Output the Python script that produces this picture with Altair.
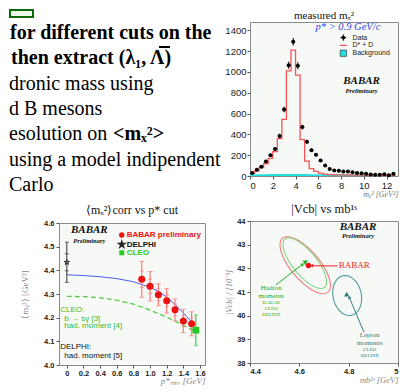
import altair as alt
import numpy as np
import pandas as pd

# ---------------- slide text (top-left, cut by the crop) ----------------
slide_lines = ["for different cuts on the",
               "then extract (\u03bb\u2081,  \u039b)",
               "dronic mass using",
               "d B mesons",
               "esolution on",
               "using a model indipendent",
               "Carlo"]
slide_bold = [True, True, False, False, False, False, False]
slide_tail = "<m\u2093\u00b2>"

# ---------------- top-right: measured mX^2 histogram ----------------
hist_x = [0.2, 0.6, 1.0, 1.4, 1.8, 2.2, 2.6, 3.0, 3.4, 3.8, 4.2, 4.6, 5.0, 5.4, 5.8, 6.2,
          6.6, 7.0, 7.4, 7.8, 8.2, 8.6, 9.0, 9.4, 9.8, 10.2, 10.6, 11.0, 11.4, 11.8, 12.2, 12.6]
data_counts = [30, 60, 90, 140, 200, 260, 385, 640, 1065, 1290, 1060, 470, 328, 248, 204, 148,
               100, 68, 53, 50, 44, 44, 35, 30, 27, 21, 15, 12, 12, 18, 8, 21]
data_err = [9, 11, 12, 14, 16, 18, 22, 27, 34, 37, 34, 23, 19, 17, 15, 13,
            11, 9, 8, 8, 7, 7, 6, 6, 5, 5, 4, 4, 4, 5, 3, 5]
mc_counts = [25, 50, 80, 120, 170, 235, 360, 545, 1010, 1210, 970, 350, 142, 70, 45, 27,
             18, 14, 12, 11, 10, 10, 9, 9, 8, 8, 8, 7, 7, 7, 6, 6]
bg_counts = [15, 17, 18, 18, 19, 19, 20, 20, 20, 20, 20, 19, 19, 18, 18, 18,
             17, 17, 16, 16, 15, 15, 14, 14, 13, 13, 12, 12, 11, 11, 10, 10]
hist_legend = ["Data", "D* + D", "Background"]
hist_legend_y = [1330, 1255, 1180]

# ---------------- bottom-left: <mX^2> vs p* cut ----------------
babar_p = [0.9, 1.0, 1.1, 1.2, 1.3, 1.4, 1.5]
babar_m = [4.362, 4.333, 4.297, 4.271, 4.233, 4.186, 4.174]
babar_err = [0.076, 0.062, 0.047, 0.052, 0.046, 0.049, 0.051]
babar_stat = [0.035, 0.03, 0.025, 0.025, 0.024, 0.024, 0.025]
delphi_p, delphi_m, delphi_err, delphi_stat = 0.0, 4.434, 0.085, 0.036
cleo_p, cleo_m, cleo_err = 1.55, 4.147, 0.065
blue_p = [0, 0.2, 0.4, 0.6, 0.8, 1.0, 1.1, 1.2, 1.3, 1.4, 1.5, 1.53]
blue_m = [4.381, 4.378, 4.373, 4.365, 4.352, 4.328, 4.311, 4.287, 4.256, 4.22, 4.182, 4.17]
green_p = [0, 0.2, 0.4, 0.6, 0.8, 1.0, 1.2, 1.4, 1.55]
green_m = [4.29, 4.289, 4.284, 4.274, 4.257, 4.232, 4.202, 4.168, 4.14]

# ---------------- bottom-right: |Vcb| vs mb ----------------
ell_name = ["BABAR", "Hadron", "Lepton"]
ell_cx = [4.624, 4.622, 4.794]
ell_cy = [42.13, 42.22, 40.85]
ell_u = [(0.091, -1.148), (0.0791, -1.031), (0.0158, -0.837)]
ell_v = [(-0.0467, -0.358), (-0.0396, -0.292), (-0.0564, -0.103)]
ell_color = ["#f07a7a", "#86d486", "#4f9c9c"]
pt_mb = [4.637, 4.624, 4.792]
pt_vcb = [42.12, 42.23, 40.91]

SERIF = "Liberation Serif"
SANS = "Liberation Sans"
one = pd.DataFrame({"a": [0]})
LEFT = 50  # distance from the slide text to the lower-left plot frame

# ======================= text panel =======================
TW, TH = 150, 178
tp_layers = [
    alt.Chart(one).mark_rect(fill="#eef8ea", stroke="#0b6b0b", strokeWidth=2).encode(
        x=alt.value(-LEFT + 1), x2=alt.value(-LEFT + 24), y=alt.value(-12), y2=alt.value(-5)),
    # bar over the Lambda
    alt.Chart(one).mark_rule(color="black", strokeWidth=2).encode(
        x=alt.value(-LEFT + 150), x2=alt.value(-LEFT + 161), y=alt.value(25)),
]
ys_text = alt.Scale(domain=[-0.435, 6.6], reverse=True)
shifts = [1, 2, 0, 0, 0, 0, 0]
for i, (t, b) in enumerate(zip(slide_lines, slide_bold)):
    d = pd.DataFrame({"line": [i], "txt": [t]})
    tp_layers.append(alt.Chart(d).mark_text(
        align="left", baseline="middle", font=SERIF, fontSize=20,
        fontWeight="bold" if b else "normal", color="black", dx=shifts[i]).encode(
        x=alt.value(-LEFT), y=alt.Y("line:Q", scale=ys_text, axis=None), text="txt:N"))
tail_df = pd.DataFrame({"line": [4], "txt": [slide_tail]})
tp_layers.append(alt.Chart(tail_df).mark_text(
    align="left", baseline="middle", font=SERIF, fontSize=20, fontWeight="bold",
    color="black").encode(x=alt.value(-LEFT + 104), y=alt.Y("line:Q", scale=ys_text, axis=None), text="txt:N"))
text_panel = alt.layer(*tp_layers).properties(
    width=TW, height=TH, view=alt.ViewBackground(fill="white", stroke="transparent"))

# ======================= histogram =======================
hxs = alt.Scale(domain=[0, 13], nice=False, zero=False)
hys = alt.Scale(domain=[0, 1480], nice=False, zero=False)
hax = alt.Axis(values=[0, 2, 4, 6, 8, 10, 12], title="m\u2093\u00b2 [GeV\u00b2]", titleAnchor="end",
               titleFont=SERIF, titleFontStyle="italic", titleFontWeight="normal", titleFontSize=8,
               titleColor="#777", titlePadding=1, labelFont=SANS, labelFontSize=9.5, labelColor="#222",
               tickSize=3, labelPadding=1)
hay = alt.Axis(values=list(range(0, 1401, 200)), format="d", title=None, labelFont=SANS, labelFontSize=9.5,
               labelColor="#222", tickSize=3, labelPadding=1)


def HX(f):
    return alt.X(f, scale=hxs, axis=hax)


def HY(f):
    return alt.Y(f, scale=hys, axis=hay)


hdf = pd.DataFrame({"x": hist_x, "n": data_counts, "e": data_err})
hdf["lo"] = hdf.n - hdf.e
hdf["hi"] = hdf.n + hdf.e
hdf["xl"] = hdf.x - 0.16
hdf["xr"] = hdf.x + 0.16
sdf = pd.DataFrame({"edge": [c - 0.2 for c in hist_x] + [hist_x[-1] + 0.2],
                    "mc": mc_counts + [mc_counts[-1]], "bg": bg_counts + [bg_counts[-1]]})

h_bg = alt.Chart(sdf).mark_area(interpolate="step-after", color="#22e0e0", opacity=1).encode(
    x=HX("edge:Q"), y=HY("bg:Q"))
h_mc = alt.Chart(sdf).mark_line(interpolate="step-after", color="#f25656", strokeWidth=1.3).encode(
    x=HX("edge:Q"), y=HY("mc:Q"))
h_ev = alt.Chart(hdf).mark_rule(color="black", strokeWidth=1).encode(x=HX("x:Q"), y=HY("lo:Q"), y2="hi:Q")
h_eh = alt.Chart(hdf).mark_rule(color="black", strokeWidth=1).encode(x=HX("xl:Q"), x2="xr:Q", y=HY("n:Q"))
h_pt = alt.Chart(hdf).mark_circle(color="black", size=16, opacity=1).encode(x=HX("x:Q"), y=HY("n:Q"))

lg = pd.DataFrame({"t": hist_legend, "y": hist_legend_y})
lg["mx"] = 8.2
lg["tx"] = 9.0
lg0 = lg.iloc[[0]].copy()
lg0["yl"] = lg0.y - 30
lg0["yh"] = lg0.y + 30
lg0["xl"] = 7.95
lg0["xr"] = 8.45
lg1 = lg.iloc[[1]].copy()
lg1["xl"] = 7.9
lg1["xr"] = 8.5
lg2 = lg.iloc[[2]]
h_l_text = alt.Chart(lg).mark_text(align="left", baseline="middle", font=SANS, fontSize=7,
                                   color="#222").encode(x=HX("tx:Q"), y=HY("y:Q"), text="t:N")
h_l0 = alt.Chart(lg0).mark_circle(color="black", size=14, opacity=1).encode(x=HX("mx:Q"), y=HY("y:Q"))
h_l0a = alt.Chart(lg0).mark_rule(color="black").encode(x=HX("mx:Q"), y=HY("yl:Q"), y2="yh:Q")
h_l0b = alt.Chart(lg0).mark_rule(color="black").encode(x=HX("xl:Q"), x2="xr:Q", y=HY("y:Q"))
h_l1 = alt.Chart(lg1).mark_rule(color="#f25656", strokeWidth=1.3).encode(x=HX("xl:Q"), x2="xr:Q", y=HY("y:Q"))
h_l2 = alt.Chart(lg2).mark_square(color="#22e0e0", stroke="#222", strokeWidth=0.6, size=40,
                                  opacity=1).encode(x=HX("mx:Q"), y=HY("y:Q"))
ptxt = pd.DataFrame({"x": [8.6], "y": [1428], "t": ["p* > 0.9 GeV/c"]})
h_ptxt = alt.Chart(ptxt).mark_text(font=SERIF, fontStyle="italic", fontSize=10.5, color="#3344ee").encode(
    x=HX("x:Q"), y=HY("y:Q"), text="t:N")
logo_h = pd.DataFrame({"x": [9.8, 9.8], "y": [915, 820], "t": ["BABAR", "Preliminary"]})
h_logo1 = alt.Chart(logo_h.iloc[[0]]).mark_text(font=SERIF, fontStyle="italic", fontWeight="bold",
                                                fontSize=11, color="#111").encode(x=HX("x:Q"), y=HY("y:Q"), text="t:N")
h_logo2 = alt.Chart(logo_h.iloc[[1]]).mark_text(font=SERIF, fontStyle="italic", fontWeight="bold",
                                                fontSize=6.5, color="#111").encode(x=HX("x:Q"), y=HY("y:Q"), text="t:N")

hist = alt.layer(h_bg, h_mc, h_ev, h_eh, h_pt, h_l_text, h_l0, h_l0a, h_l0b, h_l1, h_l2, h_ptxt,
                 h_logo1, h_logo2).properties(
    width=148, height=154,
    title=alt.TitleParams("measured m\u2093\u00b2", font=SERIF, fontSize=11, fontWeight="normal",
                          offset=1, color="#111"))

# ======================= <mX^2> vs p* =======================
ps = alt.Scale(domain=[-0.094, 1.66], nice=False, zero=False)
ms = alt.Scale(domain=[4.0, 4.6], nice=False, zero=False)
pax = alt.Axis(values=[0, 0.2, 0.4, 0.6, 0.8, 1.0, 1.2, 1.4, 1.6],
               labelExpr="datum.value == 0 ? '0' : format(datum.value, '.1f')",
               title="p*\u2098\u1d62\u2099 [GeV]", titleAnchor="end", titleFont=SERIF, titleFontStyle="italic",
               titleFontWeight="normal", titleFontSize=9, titleColor="#888", titlePadding=0,
               labelFont=SANS, labelFontWeight="bold", labelFontSize=7.5, labelColor="#222",
               tickSize=3, labelPadding=1)
may = alt.Axis(values=[4.0, 4.1, 4.2, 4.3, 4.4, 4.5, 4.6], format=".1f",
               title="\u27e8m\u2093\u00b2\u27e9 [GeV\u00b2]", titleFont=SERIF, titleFontWeight="normal",
               titleFontSize=9, titleColor="#888", titlePadding=14,
               labelFont=SANS, labelFontWeight="bold", labelFontSize=7.5, labelColor="#222",
               tickSize=3, labelPadding=2)


def PX(f):
    return alt.X(f, scale=ps, axis=pax)


def MY(f):
    return alt.Y(f, scale=ms, axis=may)


bdf = pd.DataFrame({"p": babar_p, "m": babar_m, "e": babar_err, "s": babar_stat})
bdf["lo"] = bdf.m - bdf.e
bdf["hi"] = bdf.m + bdf.e
bdf["slo"] = bdf.m - bdf.s
bdf["shi"] = bdf.m + bdf.s
ddf = pd.DataFrame({"p": [delphi_p], "m": [delphi_m]})
ddf["lo"] = ddf.m - delphi_err
ddf["hi"] = ddf.m + delphi_err
ddf["slo"] = ddf.m - delphi_stat
ddf["shi"] = ddf.m + delphi_stat
cdf = pd.DataFrame({"p": [cleo_p], "m": [cleo_m]})
cdf["lo"] = cdf.m - cleo_err
cdf["hi"] = cdf.m + cleo_err
bl = pd.DataFrame({"p": blue_p, "m": blue_m})
gl = pd.DataFrame({"p": green_p, "m": green_m})

STAR = "M0,-1L0.2245,-0.309L0.951,-0.309L0.363,0.118L0.588,0.809L0,0.382L-0.588,0.809L-0.363,0.118L-0.951,-0.309L-0.2245,-0.309Z"

c_layers = [
    alt.Chart(gl).mark_line(color="#55cc44", strokeDash=[5, 3], strokeWidth=1.3).encode(x=PX("p:Q"), y=MY("m:Q")),
    alt.Chart(bl).mark_line(color="#4a5ef0", strokeWidth=1).encode(x=PX("p:Q"), y=MY("m:Q")),
    alt.Chart(bdf).mark_rule(color="#ff7a7a", strokeWidth=1.2).encode(x=PX("p:Q"), y=MY("lo:Q"), y2="hi:Q"),
]
for fld in ["lo", "hi"]:
    c_layers.append(alt.Chart(bdf).mark_tick(orient="horizontal", color="#ff7a7a", size=5, thickness=1).encode(
        x=PX("p:Q"), y=MY(fld + ":Q")))
for fld in ["slo", "shi"]:
    c_layers.append(alt.Chart(bdf).mark_tick(orient="horizontal", color="#ff7a7a", size=4, thickness=1).encode(
        x=PX("p:Q"), y=MY(fld + ":Q")))
c_layers.append(alt.Chart(bdf).mark_circle(color="#ee1111", size=50, opacity=1).encode(x=PX("p:Q"), y=MY("m:Q")))
c_layers.append(alt.Chart(ddf).mark_rule(color="#333", strokeWidth=1).encode(x=PX("p:Q"), y=MY("lo:Q"), y2="hi:Q"))
for fld in ["lo", "hi", "slo", "shi"]:
    c_layers.append(alt.Chart(ddf).mark_tick(orient="horizontal", color="#333", size=4, thickness=1).encode(
        x=PX("p:Q"), y=MY(fld + ":Q")))
c_layers.append(alt.Chart(ddf).mark_point(shape=STAR, size=30, color="#222", filled=False, strokeWidth=1,
                                          opacity=1).encode(x=PX("p:Q"), y=MY("m:Q")))
c_layers.append(alt.Chart(cdf).mark_rule(color="#44cc44", strokeWidth=1.2).encode(x=PX("p:Q"), y=MY("lo:Q"), y2="hi:Q"))
for fld in ["lo", "hi"]:
    c_layers.append(alt.Chart(cdf).mark_tick(orient="horizontal", color="#44cc44", size=4, thickness=1).encode(
        x=PX("p:Q"), y=MY(fld + ":Q")))
c_layers.append(alt.Chart(cdf).mark_square(color="#22cc22", size=45, opacity=1).encode(x=PX("p:Q"), y=MY("m:Q")))

# legend
leg_c = pd.DataFrame({"p": [0.66, 0.66, 0.66], "tp": [0.72, 0.72, 0.72], "m": [4.549, 4.509, 4.474],
                      "t": ["BABAR preliminary", "DELPHI", "CLEO"], "col": ["#ee1111", "#111111", "#22cc22"]})
c_layers.append(alt.Chart(leg_c).mark_text(align="left", baseline="middle", font=SANS, fontWeight="bold",
                                           fontSize=8).encode(x=PX("tp:Q"), y=MY("m:Q"), text="t:N",
                                                              color=alt.Color("col:N", scale=None)))
c_layers.append(alt.Chart(leg_c.iloc[[0]]).mark_circle(color="#ee1111", size=30, opacity=1).encode(x=PX("p:Q"), y=MY("m:Q")))
c_layers.append(alt.Chart(leg_c.iloc[[1]]).mark_point(shape=STAR, size=20, color="#222", filled=False,
                                                      opacity=1).encode(x=PX("p:Q"), y=MY("m:Q")))
c_layers.append(alt.Chart(leg_c.iloc[[2]]).mark_square(color="#22cc22", size=25, opacity=1).encode(x=PX("p:Q"), y=MY("m:Q")))
# annotations
ann_c = pd.DataFrame({"p": [-0.08, -0.03, -0.03, -0.08, -0.03],
                      "m": [4.231, 4.195, 4.163, 4.076, 4.038],
                      "t": ["CLEO:", "b \u2192 s\u03b3  [3]", "had.  moment  [4]", "DELPHI:", "had.  moment  [5]"],
                      "col": ["#33bb33", "#33bb33", "#33bb33", "#111111", "#111111"]})
c_layers.append(alt.Chart(ann_c).mark_text(align="left", baseline="middle", font=SANS, fontSize=8).encode(
    x=PX("p:Q"), y=MY("m:Q"), text="t:N", color=alt.Color("col:N", scale=None)))
logo_c = pd.DataFrame({"p": [0.27, 0.27], "m": [4.57, 4.524], "t": ["BABAR", "Preliminary"]})
c_layers.append(alt.Chart(logo_c.iloc[[0]]).mark_text(font=SERIF, fontStyle="italic", fontWeight="bold",
                                                      fontSize=11, color="#111").encode(x=PX("p:Q"), y=MY("m:Q"), text="t:N"))
c_layers.append(alt.Chart(logo_c.iloc[[1]]).mark_text(font=SERIF, fontStyle="italic", fontWeight="bold",
                                                      fontSize=6.5, color="#111").encode(x=PX("p:Q"), y=MY("m:Q"), text="t:N"))

mchart = alt.layer(*c_layers).properties(
    width=146, height=142,
    title=alt.TitleParams("\u27e8m\u2093\u00b2\u27e9corr  vs p* cut", font=SERIF, fontSize=12,
                          fontWeight="normal", offset=2, color="#111"))

# ======================= |Vcb| vs mb =======================
bs = alt.Scale(domain=[4.4, 5.0], nice=False, zero=False)
vs = alt.Scale(domain=[38, 44], nice=False, zero=False)
bax = alt.Axis(values=[4.4, 4.6, 4.8, 5.0], labelExpr="datum.value == 5 ? '5' : format(datum.value, '.1f')",
               title="mb\u00b9\u02e2 [GeV]", titleAnchor="end", titleFont=SERIF, titleFontStyle="italic",
               titleFontWeight="normal", titleFontSize=8.5, titleColor="#888", titlePadding=1,
               labelFont=SANS, labelFontWeight="bold", labelFontSize=7.5, labelColor="#222",
               tickSize=3, labelPadding=1)
vay = alt.Axis(values=[38, 39, 40, 41, 42, 43, 44], format="d",
               title="|Vcb| / [10\u207b\u00b3]", titleFont=SERIF, titleFontStyle="italic",
               titleFontWeight="normal", titleFontSize=8.5, titleColor="#888", titlePadding=3,
               labelFont=SANS, labelFontWeight="bold", labelFontSize=7.5, labelColor="#222",
               tickSize=3, labelPadding=2)


def BX(f):
    return alt.X(f, scale=bs, axis=bax)


def VY(f):
    return alt.Y(f, scale=vs, axis=vay)


t = np.linspace(0, 2 * np.pi, 73)
ell_rows = []
for k in range(3):
    ux, uy = ell_u[k]
    vx, vy = ell_v[k]
    for j, tt in enumerate(t):
        ell_rows.append({"name": ell_name[k], "o": j,
                         "x": ell_cx[k] + ux * np.cos(tt) + vx * np.sin(tt),
                         "y": ell_cy[k] + uy * np.cos(tt) + vy * np.sin(tt)})
edf = pd.DataFrame(ell_rows)
v_layers = []
for k in range(3):
    v_layers.append(alt.Chart(edf[edf.name == ell_name[k]]).mark_line(color=ell_color[k], strokeWidth=1.1).encode(
        x=BX("x:Q"), y=VY("y:Q"), order="o:Q"))

arr = pd.DataFrame({"x1": [4.755, 4.505, 4.862], "y1": [42.1, 41.3, 39.3],
                    "x2": [4.652, 4.612, 4.803], "y2": [42.11, 42.16, 40.76],
                    "col": ["#ee2222", "#22aa22", "#2e7d7d"], "ang": [270, 50, 340]})
v_layers.append(alt.Chart(arr).mark_rule(strokeWidth=1).encode(
    x=BX("x1:Q"), x2="x2:Q", y=VY("y1:Q"), y2="y2:Q", color=alt.Color("col:N", scale=None)))
v_layers.append(alt.Chart(arr).mark_point(shape="triangle", filled=True, size=14, opacity=1).encode(
    x=BX("x2:Q"), y=VY("y2:Q"), color=alt.Color("col:N", scale=None), angle=alt.Angle("ang:Q", scale=None)))
pdf = pd.DataFrame({"x": pt_mb, "y": pt_vcb, "col": ["#ee1111", "#22aa22", "#2e7d7d"],
                    "shape": ["circle", "triangle-down", "triangle-up"]})
v_layers.append(alt.Chart(pdf).mark_point(filled=True, size=28, opacity=1).encode(
    x=BX("x:Q"), y=VY("y:Q"), color=alt.Color("col:N", scale=None), shape=alt.Shape("shape:N", scale=None)))

vtxt = pd.DataFrame({
    "x": [4.76, 4.486, 4.486, 4.486, 4.486, 4.486, 4.885, 4.885, 4.885, 4.885],
    "y": [42.12, 41.15, 40.83, 40.56, 40.32, 40.08, 39.17, 38.85, 38.58, 38.34],
    "t": ["BABAR", "Hadron", "moments", "BABAR", "CLEO", "DELPHI", "Lepton", "moments", "CLEO", "DELPHI"],
    "col": ["#ee2222"] + ["#22aa22"] * 5 + ["#2e7d7d"] * 4,
    "sz": [9, 7, 7, 5, 5, 5, 7, 7, 5, 5]})
v_layers.append(alt.Chart(vtxt.iloc[[0]]).mark_text(align="left", baseline="middle", font=SERIF, fontSize=9).encode(
    x=BX("x:Q"), y=VY("y:Q"), text="t:N", color=alt.Color("col:N", scale=None)))
v_layers.append(alt.Chart(vtxt.iloc[1:]).mark_text(align="center", baseline="middle", font=SERIF).encode(
    x=BX("x:Q"), y=VY("y:Q"), text="t:N", color=alt.Color("col:N", scale=None),
    size=alt.Size("sz:Q", scale=None)))
logo_v = pd.DataFrame({"x": [4.838, 4.838], "y": [43.74, 43.36], "t": ["BABAR", "Preliminary"]})
v_layers.append(alt.Chart(logo_v.iloc[[0]]).mark_text(font=SERIF, fontStyle="italic", fontWeight="bold",
                                                      fontSize=11, color="#111").encode(x=BX("x:Q"), y=VY("y:Q"), text="t:N"))
v_layers.append(alt.Chart(logo_v.iloc[[1]]).mark_text(font=SERIF, fontStyle="italic", fontWeight="bold",
                                                      fontSize=6.5, color="#111").encode(x=BX("x:Q"), y=VY("y:Q"), text="t:N"))

vchart = alt.layer(*v_layers).properties(
    width=148, height=142,
    title=alt.TitleParams("|Vcb| vs mb\u00b9\u02e2", font=SERIF, fontSize=12.5, fontWeight="normal",
                          offset=2, color="#111"))

left_col = alt.vconcat(text_panel, mchart, spacing=2)
right_col = alt.vconcat(hist, vchart, spacing=3)
chart = alt.hconcat(left_col, right_col, spacing=2).properties(
    padding={"left": 0, "top": 0, "right": 2, "bottom": 0}, background="white"
).configure_view(fill="#f6f9f6", stroke="#8a8a8a", strokeWidth=1).configure_axis(
    grid=False, domain=False, tickColor="#555")

chart.save("out.html", embed_options={"renderer": "svg", "actions": False})
